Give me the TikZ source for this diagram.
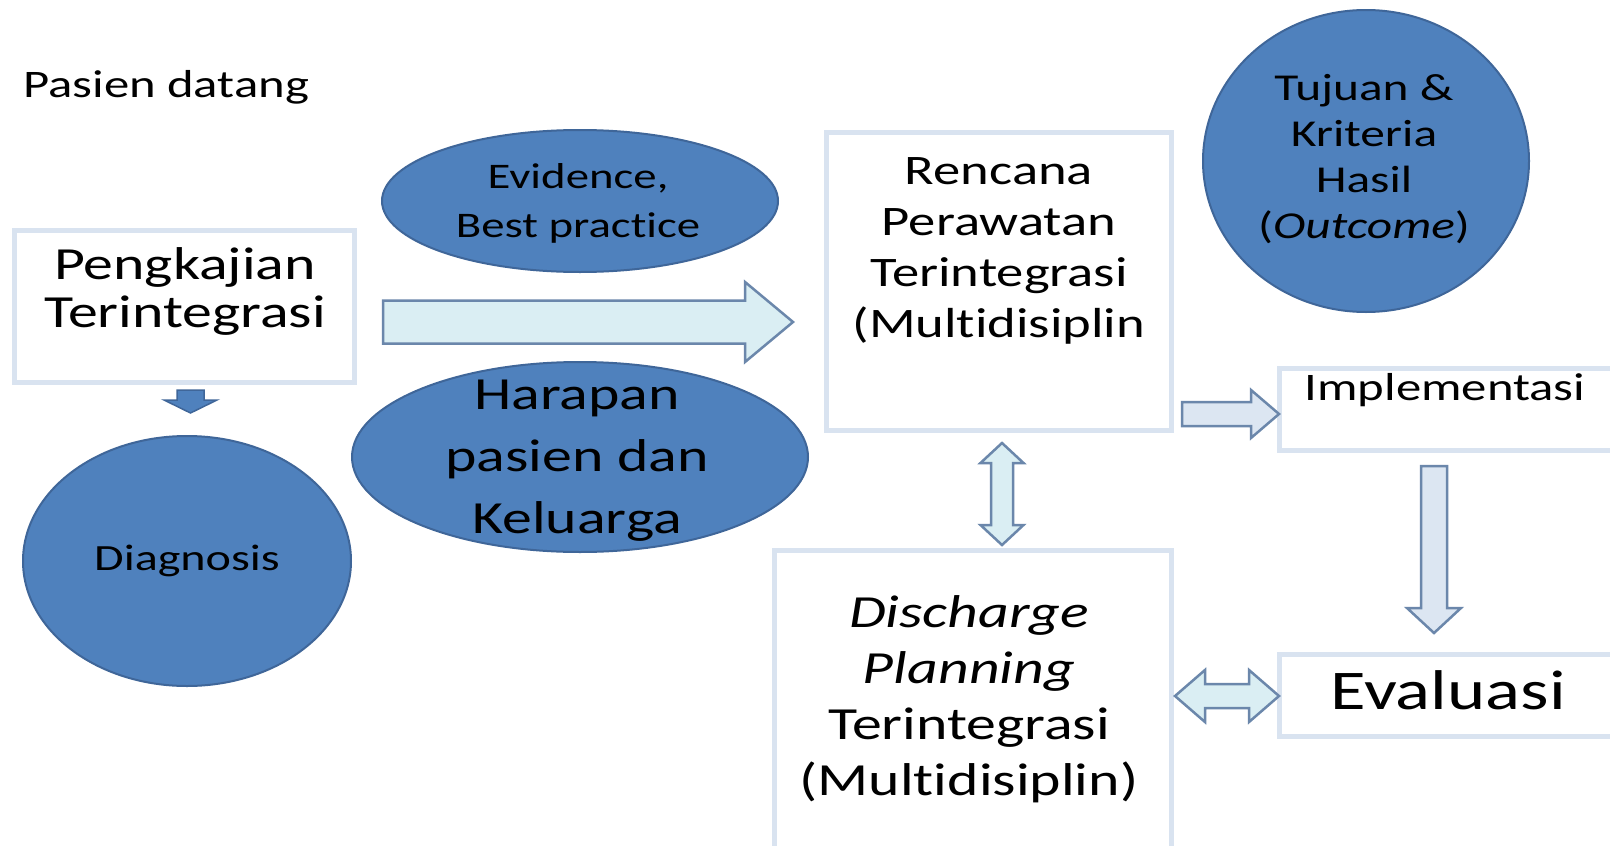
\documentclass[tikz,border=0pt]{standalone}
\usepackage{fontspec}
\setmainfont{Carlito}[FakeStretch=1.3,Ligatures={NoCommon}]
\usetikzlibrary{calc,shapes.geometric}
\definecolor{ellfill}{HTML}{4F81BD}
\definecolor{elldraw}{HTML}{3F6699}
\definecolor{boxdraw}{HTML}{D9E3F0}
\definecolor{arrfillA}{HTML}{DAEEF3}
\definecolor{arrfillB}{HTML}{DCE6F2}
\definecolor{arrdraw}{HTML}{6B87AB}
\newcommand\arrR[6]{\draw[#1] let \p1=(#2), \p2=(#3) in (\x1,\y1+#4) -- (\x2-#6,\y1+#4) -- (\x2-#6,\y1+#5) -- (\x2,\y1) -- (\x2-#6,\y1-#5) -- (\x2-#6,\y1-#4) -- (\x1,\y1-#4) -- cycle;}
\newcommand\arrD[6]{\draw[#1] let \p1=(#2), \p2=(#3) in (\x1-#4,\y1) -- (\x1-#4,\y2+#6) -- (\x1-#5,\y2+#6) -- (\x1,\y2) -- (\x1+#5,\y2+#6) -- (\x1+#4,\y2+#6) -- (\x1+#4,\y1) -- cycle;}
\newcommand\arrH[6]{\draw[#1] let \p1=(#2), \p2=(#3) in (\x1,\y1) -- (\x1+#6,\y1+#5) -- (\x1+#6,\y1+#4) -- (\x2-#6,\y1+#4) -- (\x2-#6,\y1+#5) -- (\x2,\y1) -- (\x2-#6,\y1-#5) -- (\x2-#6,\y1-#4) -- (\x1+#6,\y1-#4) -- (\x1+#6,\y1-#5) -- cycle;}
\newcommand\arrV[6]{\draw[#1] let \p1=(#2), \p2=(#3) in (\x1,\y1) -- (\x1+#5,\y1-#6) -- (\x1+#4,\y1-#6) -- (\x1+#4,\y2+#6) -- (\x1+#5,\y2+#6) -- (\x1,\y2) -- (\x1-#5,\y2+#6) -- (\x1-#4,\y2+#6) -- (\x1-#4,\y1-#6) -- (\x1-#5,\y1-#6) -- cycle;}
\begin{document}
\begin{tikzpicture}[x=1pt,y=-1pt,
  ell/.style={ellipse,fill=ellfill,draw=elldraw,line width=2pt,inner sep=0pt,align=center,text=black},
  bx/.style={rectangle,draw=boxdraw,line width=5pt,fill=white,inner sep=0pt},
  txt/.style={inner sep=0pt,align=center,text=black},
  arrA/.style={fill=arrfillA,draw=arrdraw,line width=2.5pt,line join=miter},
  arrB/.style={fill=arrfillB,draw=arrdraw,line width=2.5pt,line join=miter},
  arrC/.style={fill=ellfill,draw=elldraw,line width=1.5pt,line join=miter}]
\useasboundingbox[fill=white] (0,0) rectangle (1610,846);

% boxes
\node[bx,minimum width=340pt,minimum height=152pt] (pengkajian) at (184.5,306.5) {};
\node[bx,minimum width=345pt,minimum height=298pt] (rencana) at (999,281.5) {};
\node[bx,minimum width=338pt,minimum height=82pt] (implementasi) at (1448.5,409.5) {};
\node[bx,minimum width=338pt,minimum height=82pt] (evaluasi) at (1448.5,695.5) {};
\node[bx,minimum width=397pt,minimum height=330pt] (discharge) at (973,715.5) {};

% ellipses
\node[ell,minimum width=328pt,minimum height=250pt,font=\fontsize{37}{44}\selectfont] (diagnosis) at (187,561) {Diagnosis};
\node[ell,minimum width=396pt,minimum height=142pt] (evidence) at (580,201) {};
\node[ell,minimum width=456pt,minimum height=190pt] (harapan) at (580,457) {};
\node[ell,minimum width=326pt,minimum height=302pt] (tujuan) at (1366,161) {};

% texts
\node[txt,anchor=base,font=\fontsize{36}{49}\selectfont] (evidenceT) at (578,237) {Evidence,\\Best practice};
\node[txt,anchor=base,font=\fontsize{46}{62}\selectfont] (harapanT) at (577,533) {Harapan\\pasien dan\\Keluarga};
\node[txt,anchor=base,font=\fontsize{38}{46}\selectfont] (tujuanT) at (1364,238) {Tujuan \&\\Kriteria\\Hasil\\(\textit{Outcome})};
\node[txt,anchor=base west,font=\fontsize{39}{47}\selectfont] (pasien) at (23,97) {Pasien datang};
\node[txt,anchor=base,font=\fontsize{46}{48}\selectfont] (pengkajianT) at (185,327) {Pengkajian\\Terintegrasi};
\node[txt,anchor=base,font=\fontsize{42}{51}\selectfont] (rencanaT) at (999,337) {Rencana\\Perawatan\\Terintegrasi\\(Multidisiplin};
\node[txt,anchor=base,font=\fontsize{39}{47}\selectfont] (implementasiT) at (1445,400) {Implementasi};
\node[txt,anchor=base,font=\fontsize{56}{60}\selectfont] (evaluasiT) at (1448,709) {Evaluasi};
\node[txt,anchor=base,font=\fontsize{46}{56}\selectfont] (dischargeT) at (969,795) {\textit{Discharge}\\\textit{Planning}\\Terintegrasi\\(Multidisiplin)};

% arrow end points
\coordinate (bigS) at (383,322);
\coordinate (bigE) at (793,322);
\coordinate (riS) at (1182,414);
\coordinate (riE) at (1279,414);
\coordinate (dnS) at (1434,466);
\coordinate (dnE) at (1434,633);
\coordinate (smS) at (190.5,390);
\coordinate (smE) at (190.5,413);
\coordinate (vdS) at (1002,443);
\coordinate (vdE) at (1002,545);
\coordinate (hdS) at (1175,696);
\coordinate (hdE) at (1279,696);

% block arrows
\arrR{arrA}{bigS}{bigE}{21.5pt}{40pt}{48pt}
\arrR{arrB}{riS}{riE}{12pt}{24pt}{28pt}
\arrD{arrB}{dnS}{dnE}{13pt}{27pt}{25pt}
\arrD{arrC}{smS}{smE}{13.5pt}{26.5pt}{13pt}
\arrV{arrA}{vdS}{vdE}{11pt}{21.5pt}{20pt}
\arrH{arrA}{hdS}{hdE}{12pt}{26pt}{30pt}
\end{tikzpicture}
\end{document}
